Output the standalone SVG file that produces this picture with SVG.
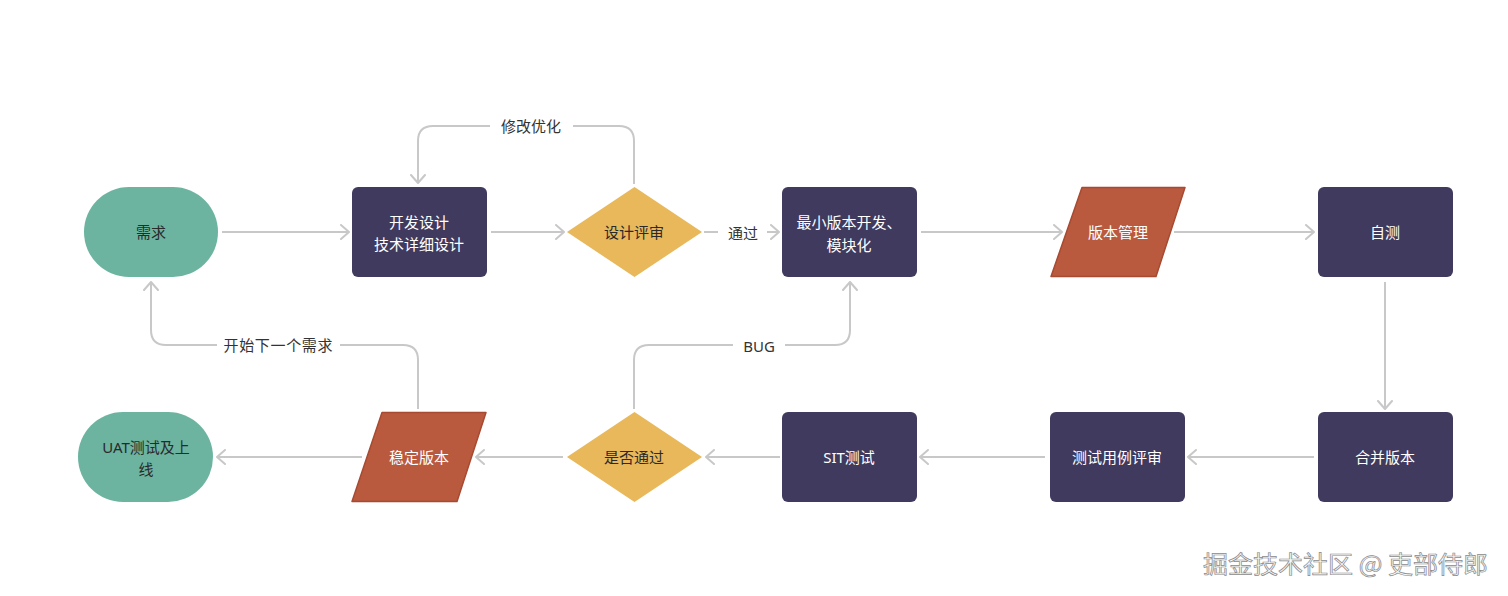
<svg xmlns="http://www.w3.org/2000/svg" width="1508" height="596" viewBox="0 0 1508 596">
<style>
.t{font-family:"Noto Sans","Noto Sans CJK SC",sans-serif;font-size:15px;text-anchor:middle;dominant-baseline:central}
.w{fill:#ffffff}
.d{fill:#2a2a2a}
.lbl{font-family:"Noto Sans","Noto Sans CJK SC",sans-serif;font-size:15px;text-anchor:middle;dominant-baseline:central;fill:#333333}
.box{fill:#3f3a5e}
.term{fill:#6cb4a0}
.dec{fill:#e8b85b}
.io{fill:#b95a3f;stroke:#a74a31;stroke-width:1.5;stroke-linejoin:round}
.c{fill:none;stroke:#c8c8c8;stroke-width:2}
.wm{font-family:"Noto Sans CJK SC","Noto Sans",sans-serif;font-size:24px;text-anchor:end;fill:#f7f7f7;stroke:#8a8a8a;stroke-width:0.7}
</style>
<defs>
<marker id="ah" viewBox="0 0 10 16" markerWidth="10" markerHeight="16" refX="9" refY="8" orient="auto" markerUnits="userSpaceOnUse">
<path d="M1,1 L9,8 L1,15" fill="none" stroke="#c8c8c8" stroke-width="2" stroke-linecap="round" stroke-linejoin="round"/>
</marker>
</defs>
<rect width="1508" height="596" fill="#ffffff"/>

<g id="connectors">
<path class="c" d="M222,232 H349" marker-end="url(#ah)"/>
<path class="c" d="M491,232 H564" marker-end="url(#ah)"/>
<path class="c" d="M634,184 V141 Q634,126 619,126 H573"/>
<path class="c" d="M490,126 H433 Q418,126 418,141 V183" marker-end="url(#ah)"/>
<path class="c" d="M704,232 H718"/>
<path class="c" d="M767,232 H779" marker-end="url(#ah)"/>
<path class="c" d="M921,232 H1062" marker-end="url(#ah)"/>
<path class="c" d="M1174,232 H1314" marker-end="url(#ah)"/>
<path class="c" d="M1385,282 V409" marker-end="url(#ah)"/>
<path class="c" d="M1314,457 H1188" marker-end="url(#ah)"/>
<path class="c" d="M1045,457 H920" marker-end="url(#ah)"/>
<path class="c" d="M780,457 H706" marker-end="url(#ah)"/>
<path class="c" d="M563,457 H476" marker-end="url(#ah)"/>
<path class="c" d="M362,457 H217" marker-end="url(#ah)"/>
<path class="c" d="M634,409 V360 Q634,345 649,345 H733"/>
<path class="c" d="M785,345 H835 Q850,345 850,330 V282" marker-end="url(#ah)"/>
<path class="c" d="M418,409 V360 Q418,345 403,345 H340"/>
<path class="c" d="M217,345 H166 Q151,345 151,330 V282" marker-end="url(#ah)"/>
<text class="lbl" x="531" y="126">修改优化</text>
<text class="lbl" x="743" y="233">通过</text>
<text class="lbl" x="759" y="346">BUG</text>
<text class="lbl" x="278" y="345" textLength="109" lengthAdjust="spacing">开始下一个需求</text>
</g>

<g id="n-xuqiu">
<rect class="term" x="84" y="187" width="134" height="90" rx="45" ry="45"/>
<text class="t d" x="151" y="232">需求</text>
</g>
<g id="n-kaifasheji">
<rect class="box" x="352" y="187" width="135" height="90" rx="6"/>
<text class="t w" x="419" y="222">开发设计</text>
<text class="t w" x="419" y="244">技术详细设计</text>
</g>
<g id="n-shejipingshen">
<polygon class="dec" points="634.5,187 702,232 634.5,277 567,232"/>
<text class="t d" x="634" y="232">设计评审</text>
</g>
<g id="n-zuixiao">
<rect class="box" x="782" y="187" width="135" height="90" rx="6"/>
<text class="t w" x="849" y="222">最小版本开发、</text>
<text class="t w" x="849" y="245">模块化</text>
</g>
<g id="n-banbenguanli">
<polygon class="io" points="1082,187.5 1185,187.5 1156,276.5 1051,276.5"/>
<text class="t w" x="1118" y="232">版本管理</text>
</g>
<g id="n-zice">
<rect class="box" x="1318" y="187" width="135" height="90" rx="6"/>
<text class="t w" x="1385" y="232">自测</text>
</g>
<g id="n-hebing">
<rect class="box" x="1318" y="412" width="135" height="90" rx="6"/>
<text class="t w" x="1385" y="457">合并版本</text>
</g>
<g id="n-ceshiyongli">
<rect class="box" x="1050" y="412" width="135" height="90" rx="6"/>
<text class="t w" x="1117" y="457">测试用例评审</text>
</g>
<g id="n-sit">
<rect class="box" x="782" y="412" width="135" height="90" rx="6"/>
<text class="t w" x="849" y="457">SIT测试</text>
</g>
<g id="n-shifoutongguo">
<polygon class="dec" points="634.5,412 702,457 634.5,502 567,457"/>
<text class="t d" x="634" y="457">是否通过</text>
</g>
<g id="n-wending">
<polygon class="io" points="382,412.5 486,412.5 457,501.5 352,501.5"/>
<text class="t w" x="419" y="457">稳定版本</text>
</g>
<g id="n-uat">
<rect class="term" x="78" y="412" width="135" height="90" rx="45" ry="45"/>
<text class="t d" x="146" y="447">UAT测试及上</text>
<text class="t d" x="146" y="469">线</text>
</g>

<text class="wm" x="1488" y="573" textLength="285" lengthAdjust="spacingAndGlyphs">掘金技术社区 @ 吏部侍郎</text>
</svg>
